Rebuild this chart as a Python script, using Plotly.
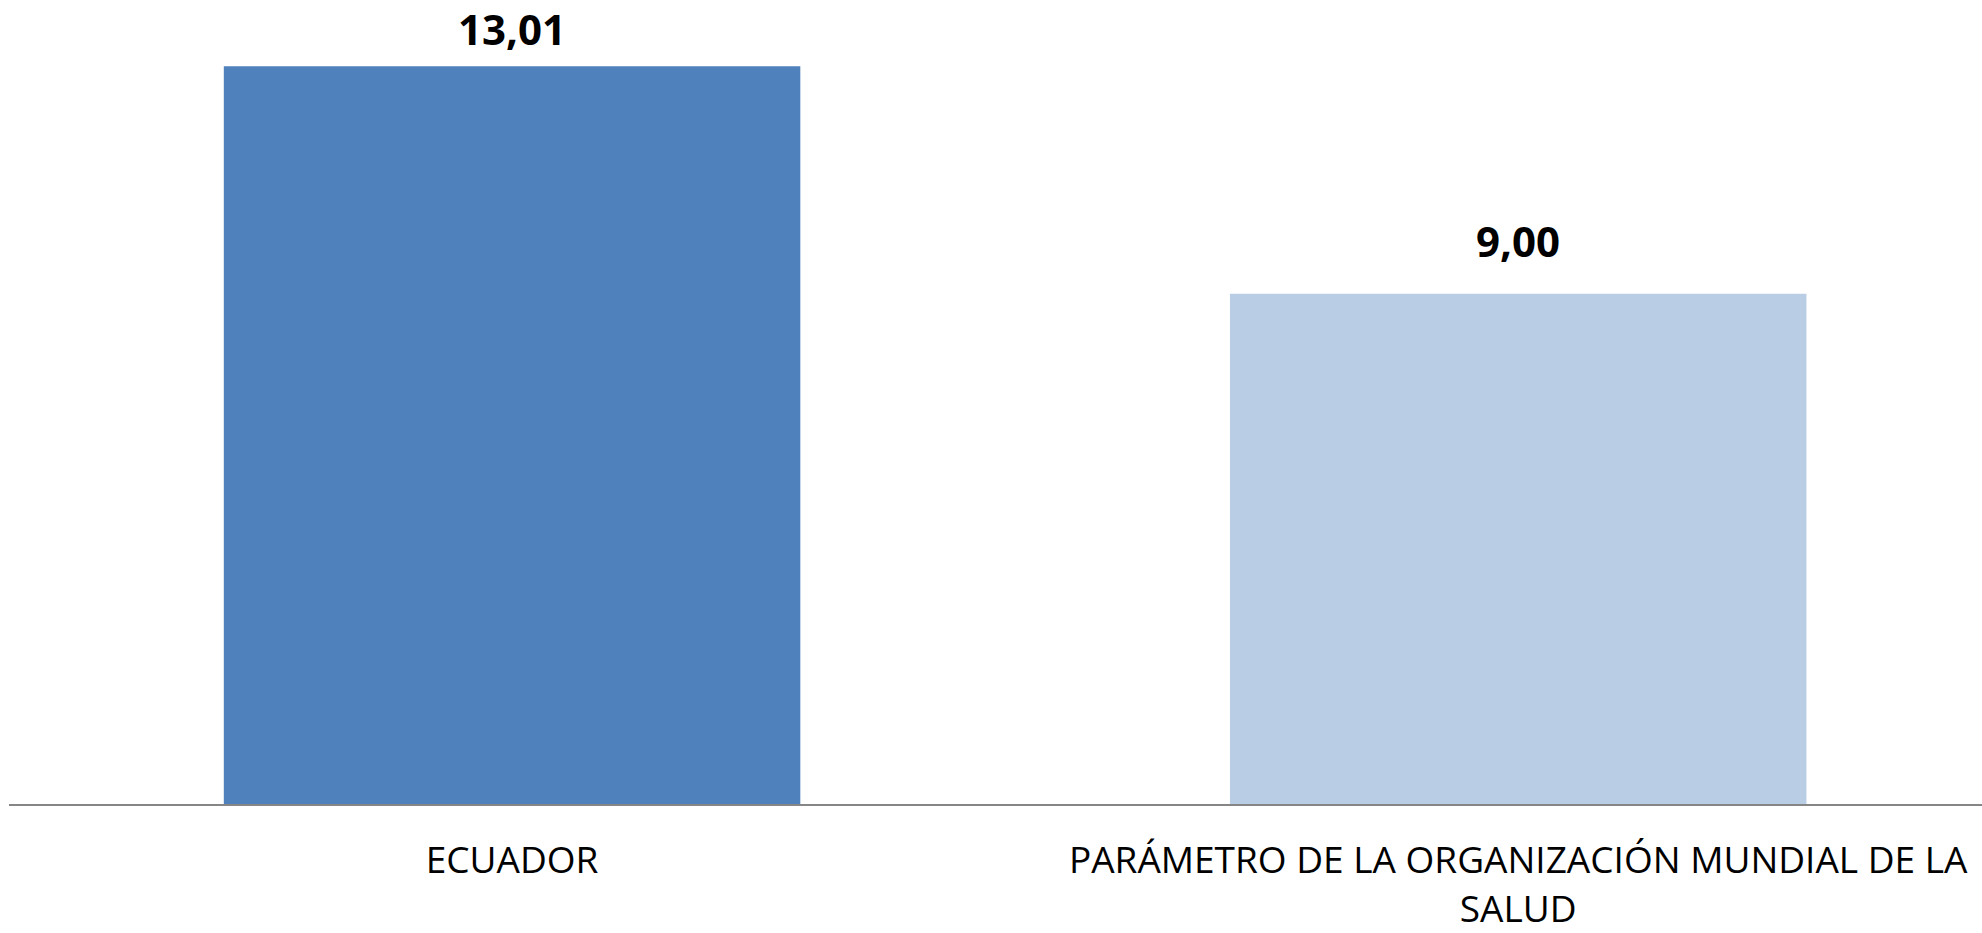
import plotly.graph_objects as go

categories = ["ECUADOR", "PARÁMETRO DE LA ORGANIZACIÓN MUNDIAL DE LA<br>SALUD"]
values = [13.01, 9.00]
value_labels = ["13,01", "9,00"]
colors = ["#4F81BD", "#B9CDE5"]

FONT = "Open Sans, Liberation Sans, sans-serif"
HEIGHT = 933
MARGIN_B = 124
Y_MAX = 14.18
PLOT_H = HEIGHT - MARGIN_B

fig = go.Figure()
fig.add_trace(go.Bar(
    x=categories, y=values, marker=dict(color=colors, line=dict(width=0)),
    width=0.573, hoverinfo="skip",
))
for c, v, t in zip(categories, values, value_labels):
    # label sits ~23px above the bar, but is pushed down when it would leave the chart top
    bar_top_px = PLOT_H - v / Y_MAX * PLOT_H
    shift = min(23, bar_top_px - 59)
    fig.add_annotation(x=c, y=v, text="<b>%s</b>" % t, showarrow=False,
                       yanchor="bottom", yshift=shift,
                       font=dict(family=FONT, size=42, color="#000000"))

fig.update_layout(
    width=1982, height=HEIGHT,
    margin=dict(l=9, r=0, t=0, b=MARGIN_B),
    paper_bgcolor="white", plot_bgcolor="white",
    showlegend=False,
    font=dict(family=FONT, color="#000000"),
)
fig.update_xaxes(
    type="category", range=[-0.5, 1.461],
    showline=True, linecolor="#868686", linewidth=2,
    showgrid=False, ticks="", zeroline=False,
    tickfont=dict(family=FONT, size=37, color="#000000"),
    ticklabelstandoff=23,
)
fig.update_yaxes(range=[0, Y_MAX], visible=False, showgrid=False, zeroline=False)

fig.write_html("out.html", config={"displayModeBar": False},
               post_script="document.body.style.margin='0';document.body.style.overflow='hidden';")
